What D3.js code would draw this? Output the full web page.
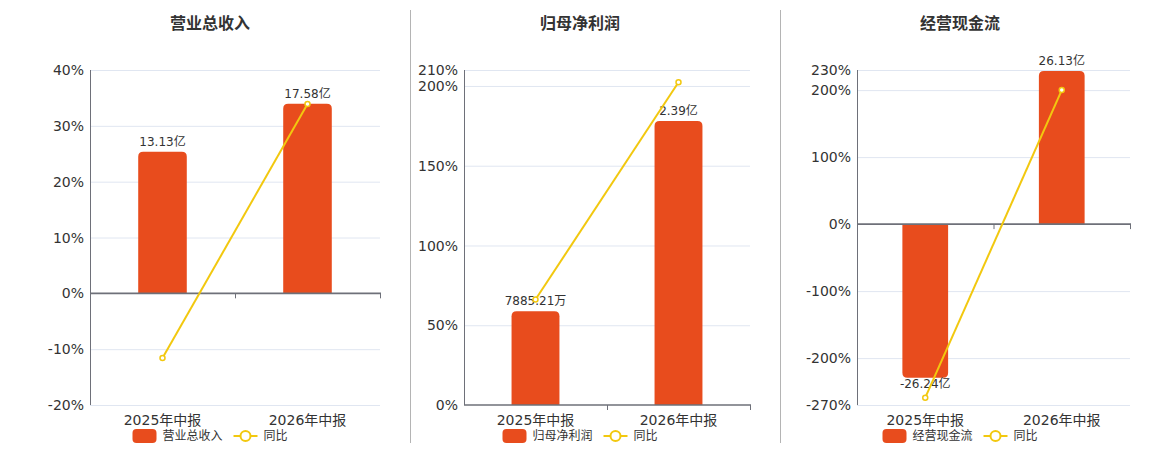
<!DOCTYPE html>
<html>
<head>
<meta charset="utf-8">
<script src="https://cdn.jsdelivr.net/npm/d3@7"></script>
<style>
  body { margin: 0; background: #fff; }
  svg text { font-family: "DejaVu Sans", "Noto Sans CJK SC", sans-serif; }
</style>
</head>
<body>
<div id="chart"></div>
<script>
// chart data
const categories = ["2025年中报", "2026年中报"];
const titles = ["营业总收入", "归母净利润", "经营现金流"];

const barValues1 = [13.13, 17.58];
const barValues2 = [0.788521, 2.39];
const barValues3 = [-26.24, 26.13];

const barLabels1 = ["13.13亿", "17.58亿"];
const barLabels2 = ["7885.21万", "2.39亿"];
const barLabels3 = ["-26.24亿", "26.13亿"];

const yoy1 = [-11.6, 33.9];
const yoy2 = [66.1, 202.3];
const yoy3 = [-259, 200];

const pctTicks1 = [-20, -10, 0, 10, 20, 30, 40];
const pctTicks2 = [0, 50, 100, 150, 200, 210];
const pctTicks3 = [-270, -200, -100, 0, 100, 200, 230];

// hidden axis range for the bars (aligned to the percent axis)
const barDomain1 = [-10.35, 20.7];
const barDomain2 = [0, 2.82];
const barDomain3 = [-30.9, 26.3];

const barColor = "#e84c1d";
const lineColor = "#f2c80f";
const axisColor = "#6e7079";
const gridColor = "#e0e6f1";
const textColor = "#333";

const width = 1160, height = 450;
const plotTop = 70, plotBottom = 405;

const svg = d3.select("#chart").append("svg")
    .attr("width", width)
    .attr("height", height);

// separators between panels
[410.5, 780.5].forEach(x => {
    svg.append("line")
        .attr("x1", x).attr("x2", x)
        .attr("y1", 10).attr("y2", 443)
        .attr("stroke", "#b4b4b4");
});

const panels = [
    { title: titles[0], bars: barValues1, labels: barLabels1, yoy: yoy1, ticks: pctTicks1, barDomain: barDomain1, left: 90, right: 380, center: 210 },
    { title: titles[1], bars: barValues2, labels: barLabels2, yoy: yoy2, ticks: pctTicks2, barDomain: barDomain2, left: 464, right: 750, center: 580 },
    { title: titles[2], bars: barValues3, labels: barLabels3, yoy: yoy3, ticks: pctTicks3, barDomain: barDomain3, left: 857, right: 1130, center: 960 }
];

panels.forEach(p => drawPanel(p));

function drawPanel(p) {
    const g = svg.append("g");

    const x = d3.scaleBand().domain(categories).range([p.left, p.right]).padding(0);
    const yPct = d3.scaleLinear().domain([d3.min(p.ticks), d3.max(p.ticks)]).range([plotBottom, plotTop]);
    const yBar = d3.scaleLinear().domain(p.barDomain).range([plotBottom, plotTop]);
    const zeroY = yPct(0);

    // title
    g.append("text")
        .attr("x", p.center).attr("y", 29)
        .attr("text-anchor", "middle")
        .attr("font-size", "16px")
        .attr("font-weight", "bold")
        .attr("fill", textColor)
        .style("font-family", "'Noto Sans CJK SC', sans-serif")
        .text(p.title);

    // grid lines
    g.selectAll(".grid")
        .data(p.ticks.filter(t => t !== 0))
        .join("line")
        .attr("x1", p.left).attr("x2", p.right)
        .attr("y1", d => yPct(d) + 0.5).attr("y2", d => yPct(d) + 0.5)
        .attr("stroke", gridColor);

    // y tick labels
    g.selectAll(".ytick")
        .data(p.ticks)
        .join("text")
        .attr("x", p.left - 6)
        .attr("y", d => yPct(d))
        .attr("dy", "0.36em")
        .attr("text-anchor", "end")
        .attr("font-size", "14px")
        .attr("fill", textColor)
        .text(d => d + "%");

    // left axis line
    g.append("line")
        .attr("x1", p.left + 0.5).attr("x2", p.left + 0.5)
        .attr("y1", plotTop).attr("y2", plotBottom)
        .attr("stroke", axisColor);

    // bars
    const bw = x.bandwidth() * 0.335;
    const r = 5;
    p.bars.forEach((v, i) => {
        const cx = x(categories[i]) + x.bandwidth() / 2;
        const x0 = cx - bw / 2, x1 = cx + bw / 2;
        const y0 = yBar(0), y1 = yBar(v);
        let path;
        if (v >= 0) {
            path = `M${x0},${y0} L${x0},${y1 + r} Q${x0},${y1} ${x0 + r},${y1} L${x1 - r},${y1} Q${x1},${y1} ${x1},${y1 + r} L${x1},${y0} Z`;
        } else {
            path = `M${x0},${y0} L${x0},${y1 - r} Q${x0},${y1} ${x0 + r},${y1} L${x1 - r},${y1} Q${x1},${y1} ${x1},${y1 - r} L${x1},${y0} Z`;
        }
        g.append("path").attr("d", path).attr("fill", barColor);

        g.append("text")
            .attr("x", cx)
            .attr("y", v >= 0 ? y1 - 6 : y1 + 10)
            .attr("text-anchor", "middle")
            .attr("font-size", "12px")
            .attr("fill", textColor)
            .text(p.labels[i]);
    });

    // zero axis line with ticks
    g.append("line")
        .attr("x1", p.left).attr("x2", p.right + 1)
        .attr("y1", zeroY).attr("y2", zeroY)
        .attr("stroke", axisColor)
        .attr("stroke-width", 1.6);
    [x(categories[1]), p.right].forEach(tx => {
        g.append("line")
            .attr("x1", tx + 0.5).attr("x2", tx + 0.5)
            .attr("y1", zeroY).attr("y2", zeroY + 5)
            .attr("stroke", axisColor);
    });

    // x labels
    g.selectAll(".xlab")
        .data(categories)
        .join("text")
        .attr("x", d => x(d) + x.bandwidth() / 2)
        .attr("y", 420)
        .attr("dy", "0.36em")
        .attr("text-anchor", "middle")
        .attr("font-size", "14px")
        .attr("fill", textColor)
        .text(d => d);

    // yoy line
    const pts = p.yoy.map((v, i) => [x(categories[i]) + x.bandwidth() / 2, yPct(v)]);
    g.append("path")
        .attr("d", d3.line()(pts))
        .attr("fill", "none")
        .attr("stroke", lineColor)
        .attr("stroke-width", 2);
    g.selectAll(".pt")
        .data(pts)
        .join("circle")
        .attr("cx", d => d[0]).attr("cy", d => d[1])
        .attr("r", 2.5)
        .attr("fill", "#fff")
        .attr("stroke", lineColor)
        .attr("stroke-width", 1.5);

    // legend
    const lx = p.center - 77.5, ly = 436;
    g.append("rect")
        .attr("x", lx).attr("y", ly - 7)
        .attr("width", 24).attr("height", 14)
        .attr("rx", 4)
        .attr("fill", barColor);
    g.append("text")
        .attr("x", lx + 30).attr("y", ly)
        .attr("dy", "0.36em")
        .attr("font-size", "12px")
        .attr("fill", textColor)
        .style("font-family", "'Noto Sans CJK SC', sans-serif")
        .text(p.title);
    g.append("line")
        .attr("x1", lx + 101).attr("x2", lx + 125)
        .attr("y1", ly).attr("y2", ly)
        .attr("stroke", lineColor)
        .attr("stroke-width", 2);
    g.append("circle")
        .attr("cx", lx + 113).attr("cy", ly)
        .attr("r", 5)
        .attr("fill", "#fff")
        .attr("stroke", lineColor)
        .attr("stroke-width", 2);
    g.append("text")
        .attr("x", lx + 131).attr("y", ly)
        .attr("dy", "0.36em")
        .attr("font-size", "12px")
        .attr("fill", textColor)
        .style("font-family", "'Noto Sans CJK SC', sans-serif")
        .text("同比");
}
</script>
</body>
</html>
